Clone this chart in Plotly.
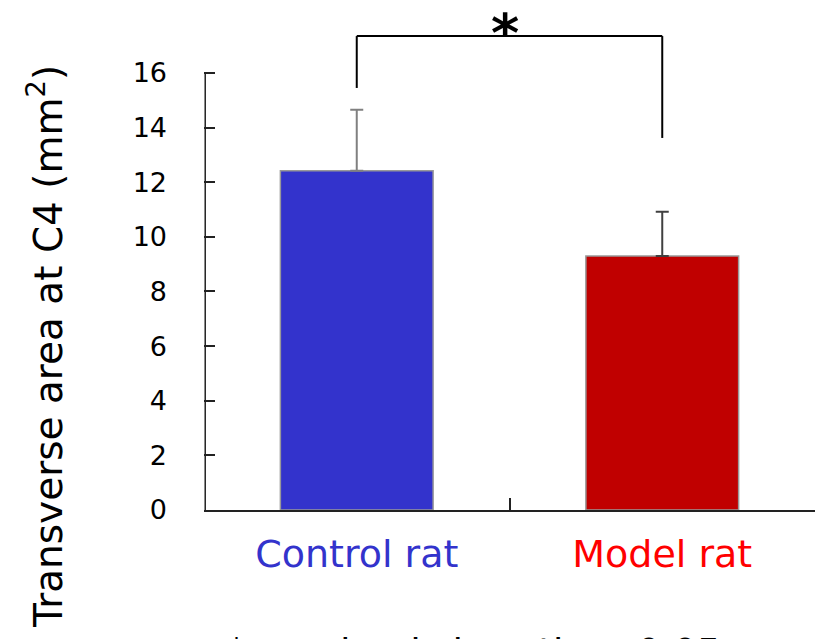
import plotly.graph_objects as go

categories = ["Control rat", "Model rat"]
means = [12.42, 9.30]
errors = [2.23, 1.62]
bar_colors = ["#3333cc", "#c00000"]
label_colors = ["#3333cc", "#ff0000"]
err_colors = ["#808080", "#404040"]
y_ticks = [0, 2, 4, 6, 8, 10, 12, 14, 16]

bracket_top = 17.35
bracket_left_bottom = 15.45
bracket_right_bottom = 13.62

FONT = "DejaVu Sans"

fig = go.Figure()
for i, c in enumerate(categories):
    fig.add_trace(go.Bar(
        x=[c], y=[means[i]],
        marker=dict(color=bar_colors[i], line=dict(color="#999999", width=1.5)),
        width=0.5,
        error_y=dict(type="data", array=[errors[i]], arrayminus=[0], symmetric=False,
                     color=err_colors[i], thickness=2, width=6.5),
        showlegend=False,
    ))

ticktext = [f"<span style='color:{label_colors[i]}'>{c}</span>" for i, c in enumerate(categories)]

fig.update_layout(
    width=815, height=639,
    margin=dict(l=204, r=0, t=0, b=129),
    plot_bgcolor="white", paper_bgcolor="white",
    font=dict(family=FONT, color="black"),
    xaxis=dict(
        type="category", range=[-0.5, 1.5], tickson="boundaries",
        tickvals=categories, ticktext=ticktext,
        ticks="inside", ticklen=12, tickwidth=1.5, tickcolor="#222222",
        showline=True, linecolor="#222222", linewidth=1.5,
        showgrid=False, zeroline=False,
        tickfont=dict(size=38, family=FONT), ticklabelstandoff=10,
    ),
    yaxis=dict(
        range=[0, 18.67], tickvals=y_ticks,
        ticks="inside", ticklen=11, tickwidth=1.5, tickcolor="#222222",
        showline=False, showgrid=False, zeroline=False,
        tickfont=dict(size=27, family=FONT), ticklabelstandoff=36,
    ),
    bargap=0.5,
)

# y axis line only up to 16
fig.add_shape(type="line", xref="paper", yref="y", x0=0.002, x1=0.002, y0=0, y1=max(y_ticks),
              line=dict(color="#222222", width=1.5))

# significance bracket
fig.add_shape(type="line", xref="x", yref="y", x0=0, x1=0, y0=bracket_left_bottom, y1=bracket_top,
              line=dict(color="black", width=2))
fig.add_shape(type="line", xref="x", yref="y", x0=0, x1=1, y0=bracket_top, y1=bracket_top,
              line=dict(color="black", width=2))
fig.add_shape(type="line", xref="x", yref="y", x0=1, x1=1, y0=bracket_right_bottom, y1=bracket_top,
              line=dict(color="black", width=2))

fig.add_annotation(x=0.5, xref="x", y=bracket_top, yref="y", text="<b>*</b>", showarrow=False,
                   font=dict(size=54, family=FONT, color="black"), yanchor="bottom", yshift=-31, xshift=-5)

fig.add_annotation(x=-0.26, xref="paper", y=0.32, yref="paper",
                   text="Transverse area at C4 (mm<sup>2</sup>)", textangle=-90, showarrow=False,
                   font=dict(size=39, family=FONT, color="black"), xanchor="center", yanchor="middle")

fig.add_annotation(x=0.442, xref="paper", y=-0.231, yref="paper",
                   text="* p value is less than 0.05", showarrow=False,
                   font=dict(size=38, family=FONT, color="black"), xanchor="center", yanchor="top")

fig.write_html("out.html", config={"displayModeBar": False},
               post_script="document.body.style.margin='0';document.body.style.padding='0';")
